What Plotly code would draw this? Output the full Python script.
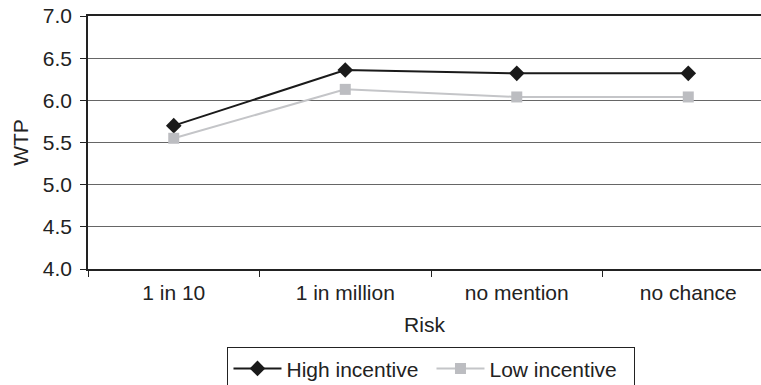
import plotly.graph_objects as go

categories = ["1 in 10", "1 in million", "no mention", "no chance"]
high_incentive = [5.70, 6.36, 6.32, 6.32]
low_incentive = [5.55, 6.13, 6.04, 6.04]
y_ticks = [4.0, 4.5, 5.0, 5.5, 6.0, 6.5, 7.0]

FONT = "Liberation Sans, Arial, sans-serif"
FS = 21

fig = go.Figure()
fig.add_trace(go.Scatter(
    x=categories, y=high_incentive, name="High incentive", mode="lines+markers",
    line=dict(color="#1a1a1a", width=2),
    marker=dict(symbol="diamond", size=12, color="#1a1a1a"),
))
fig.add_trace(go.Scatter(
    x=categories, y=low_incentive, name="Low incentive", mode="lines+markers",
    line=dict(color="#c4c5c8", width=2),
    marker=dict(symbol="square", size=11, color="#bcbdc1"),
))

fig.update_layout(
    width=761, height=385,
    margin=dict(l=88, r=0, t=16, b=116, autoexpand=False),
    paper_bgcolor="white", plot_bgcolor="white",
    font=dict(family=FONT, size=FS, color="#222"),
    showlegend=True,
    legend=dict(
        orientation="h", xref="container", yref="container",
        x=0.567, xanchor="center", y=0.098, yanchor="top",
        bordercolor="#222", borderwidth=1, bgcolor="white",
        font=dict(size=FS, family=FONT, color="#222"),
        itemwidth=48, entrywidth=140, entrywidthmode="pixels",
    ),
    xaxis=dict(
        type="category", range=[-0.5, 3.424], automargin=False,
        title=dict(text="Risk", font=dict(size=FS), standoff=14),
        showline=True, linecolor="#222", linewidth=1.5, mirror=True,
        ticks="outside", tickson="boundaries", ticklen=6, tickcolor="#222",
        ticklabelstandoff=4,
        showgrid=False, zeroline=False,
        tickfont=dict(size=FS),
    ),
    yaxis=dict(
        range=[4.0, 7.0], tickvals=y_ticks, ticktext=[f"{v:.1f}" for v in y_ticks],
        automargin=False,
        title=dict(text="WTP", font=dict(size=FS), standoff=8),
        showline=True, linecolor="#222", linewidth=1.5,
        ticks="outside", ticklen=6, tickcolor="#222",
        ticklabelstandoff=4,
        showgrid=True, gridcolor="#666", gridwidth=1,
        zeroline=False, tickfont=dict(size=FS),
    ),
)

fig.write_html(
    "out.html",
    config={"displayModeBar": False},
    post_script="document.body.style.margin='0';document.body.style.padding='0';",
)
